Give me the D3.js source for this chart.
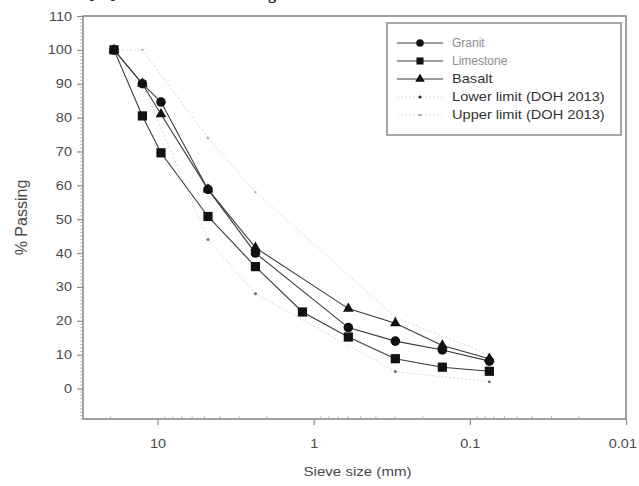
<!DOCTYPE html>
<html>
<head>
<meta charset="utf-8">
<script src="https://cdn.jsdelivr.net/npm/d3@7"></script>
<style>
  html, body { margin: 0; padding: 0; background: #fff; }
  svg { display: block; font-family: "Liberation Sans", Arial, sans-serif; }
</style>
</head>
<body>
<svg id="chart" width="639" height="486"></svg>
<script>
// Sieve sizes (mm) and percent passing for each aggregate
const sieveSizes = [19, 12.5, 9.5, 4.75, 2.36, 1.18, 0.6, 0.3, 0.15, 0.075];
const granit     = [100, 90, 84.6, 58.8, 40, null, 18, 14, 11.4, 8.1];
const limestone  = [100, 80.5, 69.6, 50.8, 36, 22.6, 15.2, 8.8, 6.3, 5.1];
const basalt     = [100, 90, 81, 58.8, 41.6, null, 23.6, 19.3, 12.7, 8.8];

// DOH 2013 gradation envelope
const limitSizes = [19, 12.5, 4.75, 2.36, 0.3, 0.075];
const lowerLimit = [100, 90, 44, 28, 5, 2];
const upperLimit = [100, 100, 74, 58, 21, 10];

const xTicks = [10, 1, 0.1, 0.01];
const xTickLabels = ["10", "1", "0.1", "0.01"];
const yTicks = [0, 10, 20, 30, 40, 50, 60, 70, 80, 90, 100, 110];

const seriesNames = ["Granit", "Limestone", "Basalt", "Lower limit (DOH 2013)", "Upper limit (DOH 2013)"];

const svg = d3.select("#chart");
const plotLeft = 83, plotRight = 626, plotTop = 16, plotBottom = 419;
const wide = 1.16; // horizontal stretch of the lettering

const x = d3.scaleLog().domain([30, 0.01]).range([plotLeft, plotRight]);
const y = d3.scaleLinear().domain([-9, 110]).range([plotBottom, plotTop]);

const axisGrey = "#8a8a8a";
const textGrey = "#4a4a4a";

// text helper: places a horizontally widened label
function label(g, px, py, str, opts = {}) {
  return g.append("text")
    .attr("transform", `translate(${px},${py}) scale(${opts.sx || wide},1)`)
    .attr("text-anchor", opts.anchor || "start")
    .attr("font-size", opts.size || 13)
    .attr("fill", opts.fill || textGrey)
    .text(str);
}

// caption line above the figure, mostly cut off
svg.append("text").attr("x", 89).attr("y", -1).attr("font-family", "Liberation Serif")
  .attr("font-weight", "bold").attr("font-size", 16).attr("fill", "#222").text("[15]");
svg.append("text").attr("x", 276).attr("y", -1).attr("text-anchor", "end").attr("font-family", "Liberation Serif")
  .attr("font-weight", "bold").attr("font-size", 16).attr("fill", "#222").text("Particle sizing");

// frame
svg.append("rect").attr("x", plotLeft).attr("y", plotTop).attr("width", plotRight - plotLeft).attr("height", plotBottom - plotTop)
  .attr("fill", "none").attr("stroke", axisGrey).attr("stroke-width", 1.6);

// y axis: major ticks with labels, minor ticks every unit
const yAxis = d3.axisLeft(y).tickValues(yTicks).tickSize(6).tickPadding(3.5).tickFormat(d3.format("d"));
const gy = svg.append("g").attr("transform", `translate(${plotLeft},0)`).call(yAxis);
gy.select(".domain").remove();
gy.selectAll(".tick line").attr("stroke", axisGrey).attr("stroke-width", 1.2);
gy.selectAll(".tick text").attr("fill", textGrey).attr("font-size", 12.5)
  .attr("font-family", "Liberation Sans, Arial, sans-serif").attr("transform", `scale(${wide},1)`);
const yMinor = d3.range(-9, 110, 1).filter(v => v % 10 !== 0);
svg.append("g").selectAll("line").data(yMinor).join("line")
  .attr("x1", plotLeft - 3).attr("x2", plotLeft).attr("y1", d => y(d)).attr("y2", d => y(d))
  .attr("stroke", "#aaa").attr("stroke-width", 0.8);

// x axis: decades labelled, minor ticks inside
const xAxis = d3.axisBottom(x).tickValues(xTicks).tickSize(6).tickPadding(14)
  .tickFormat((d, i) => xTickLabels[i]);
const gx = svg.append("g").attr("transform", `translate(0,${plotBottom})`).call(xAxis);
gx.select(".domain").remove();
gx.selectAll(".tick line").attr("stroke", axisGrey).attr("stroke-width", 1.2);
gx.selectAll(".tick text").attr("fill", textGrey).attr("font-size", 12.5)
  .attr("font-family", "Liberation Sans, Arial, sans-serif").attr("transform", `scale(${wide},1)`);
// the last decade label sits against the right edge
gx.selectAll(".tick text").filter(d => d === 0.01).attr("text-anchor", "end").attr("x", 9);
const xMinor = [20];
[1, 0.1, 0.01].forEach(dec => { for (let k = 2; k <= 9; k++) xMinor.push(k * dec); });
svg.append("g").selectAll("line").data(xMinor).join("line")
  .attr("x1", d => x(d)).attr("x2", d => x(d)).attr("y1", plotBottom).attr("y2", plotBottom - 3)
  .attr("stroke", "#aaa").attr("stroke-width", 0.8);

// axis titles
label(svg, (plotLeft + plotRight) / 2 + 3, 476, "Sieve size (mm)", { anchor: "middle", size: 13 });
svg.append("text").attr("transform", `translate(27,${(plotTop + plotBottom) / 2}) rotate(-90)`)
  .attr("text-anchor", "middle").attr("font-size", 16).attr("fill", textGrey).text("% Passing");

const pts = (sizes, vals) => sizes.map((s, i) => ({ s, v: vals[i] })).filter(d => d.v != null);
const line = d3.line().x(d => x(d.s)).y(d => y(d.v));

// envelope lines (faint dotted)
[[lowerLimit, 1.6, "#777"], [upperLimit, 1.2, "#aaa"]].forEach(([vals, r, col]) => {
  const data = pts(limitSizes, vals);
  svg.append("path").attr("d", line(data)).attr("fill", "none")
    .attr("stroke", "#cfcfcf").attr("stroke-width", 1).attr("stroke-dasharray", "1.5,2.5");
  svg.append("g").selectAll("circle").data(data).join("circle")
    .attr("cx", d => x(d.s)).attr("cy", d => y(d.v)).attr("r", r).attr("fill", col);
});

// aggregate curves
const sym = {
  circle: d3.symbol().type(d3.symbolCircle).size(72),
  square: d3.symbol().type(d3.symbolSquare).size(85),
  triangle: d3.symbol().type(d3.symbolTriangle).size(50)
};
const series = [
  { vals: basalt, shape: "triangle" },
  { vals: limestone, shape: "square" },
  { vals: granit, shape: "circle" }
];
series.forEach(sr => {
  const data = pts(sieveSizes, sr.vals);
  svg.append("path").attr("d", line(data)).attr("fill", "none")
    .attr("stroke", "#3a3a3a").attr("stroke-width", 1.1);
});
series.forEach(sr => {
  const data = pts(sieveSizes, sr.vals);
  svg.append("g").selectAll("path").data(data).join("path")
    .attr("transform", d => `translate(${x(d.s)},${y(d.v)})`)
    .attr("d", sym[sr.shape]()).attr("fill", "#111");
});

// legend
const lg = svg.append("g");
lg.append("rect").attr("x", 387).attr("y", 23).attr("width", 234).attr("height", 112)
  .attr("fill", "#fff").attr("stroke", axisGrey).attr("stroke-width", 1.5);
const legendRows = [
  { shape: "circle", solid: true, size: 12, col: "#8c8c8c", sx: 1 },
  { shape: "square", solid: true, size: 12, col: "#8c8c8c", sx: 1 },
  { shape: "triangle", solid: true, size: 12.5, col: "#333", sx: 1.17 },
  { shape: "dot", solid: false, size: 12.5, col: "#333", sx: 1.17 },
  { shape: "dash", solid: false, size: 12.5, col: "#333", sx: 1.17 }
];
const legendSym = {
  circle: d3.symbol().type(d3.symbolCircle).size(45),
  square: d3.symbol().type(d3.symbolSquare).size(50),
  triangle: d3.symbol().type(d3.symbolTriangle).size(40)
};
legendRows.forEach((r, i) => {
  const yy = 43 + i * 18;
  lg.append("line").attr("x1", 397).attr("x2", 443).attr("y1", yy).attr("y2", yy)
    .attr("stroke", r.solid ? "#3a3a3a" : "#d5d5d5").attr("stroke-width", 1)
    .attr("stroke-dasharray", r.solid ? null : "1.5,2.5");
  if (legendSym[r.shape]) {
    lg.append("path").attr("transform", `translate(420,${yy})`).attr("d", legendSym[r.shape]()).attr("fill", "#111");
  } else if (r.shape === "dot") {
    lg.append("circle").attr("cx", 420).attr("cy", yy).attr("r", 1.6).attr("fill", "#333");
  } else {
    lg.append("line").attr("x1", 418).attr("x2", 422).attr("y1", yy).attr("y2", yy).attr("stroke", "#777").attr("stroke-width", 1);
  }
  label(lg, 452, yy + 4, seriesNames[i], { size: r.size, fill: r.col, sx: r.sx });
});
</script>
</body>
</html>
